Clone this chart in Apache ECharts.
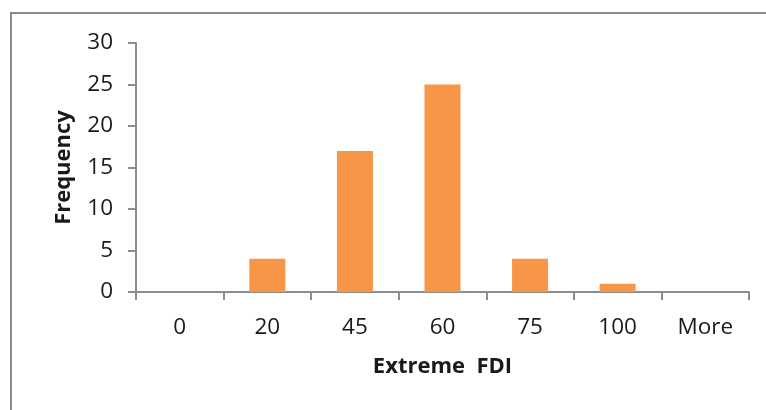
<!DOCTYPE html>
<html><head><meta charset="utf-8">
<script src="https://cdn.jsdelivr.net/npm/echarts@6/dist/echarts.min.js"></script>
<style>html,body{margin:0;padding:0;background:#fff}#c{width:766px;height:410px}</style>
</head><body><div id="c"></div>
<script>
const categories = ['0','20','45','60','75','100','More'];
const frequency = [0,4,17,25,4,1,0];
const yTicks = [0,5,10,15,20,25,30];
const FONT = '"Open Sans", Lato, sans-serif';
const chart = echarts.init(document.getElementById('c'));
chart.setOption({
  animation:false,
  backgroundColor:'#fff',
  graphic:[{type:'rect',shape:{x:11,y:13,width:760,height:410},style:{fill:'none',stroke:'#8c8c8c',lineWidth:2},silent:true}],
  grid:{left:136,right:17,top:43,bottom:118},
  xAxis:{type:'category',data:categories,
    name:'Extreme  FDI',nameLocation:'middle',nameGap:64,
    nameTextStyle:{fontFamily:FONT,fontSize:22,fontWeight:'bold',color:'#1a1a1a'},
    axisLine:{lineStyle:{color:'#8c8c8c',width:2}},
    axisTick:{show:true,length:8,inside:false,lineStyle:{color:'#8c8c8c',width:2}},
    axisLabel:{fontFamily:FONT,fontSize:22.5,color:'#1a1a1a',margin:24},
  },
  yAxis:{type:'value',min:0,max:30,interval:5,
    name:'Frequency',nameLocation:'middle',nameGap:61,nameRotate:90,
    nameTextStyle:{fontFamily:FONT,fontSize:22,fontWeight:'bold',color:'#1a1a1a'},
    axisLine:{show:true,lineStyle:{color:'#8c8c8c',width:2}},
    axisTick:{show:true,length:8,lineStyle:{color:'#8c8c8c',width:2}},
    splitLine:{show:false},
    axisLabel:{fontFamily:FONT,fontSize:22.5,color:'#1a1a1a',margin:23,
      formatter:v=>yTicks.includes(v)?String(v):''}
  },
  series:[{type:'bar',data:frequency,barWidth:36,itemStyle:{color:'#F79646'}}]
});
</script></body></html>
